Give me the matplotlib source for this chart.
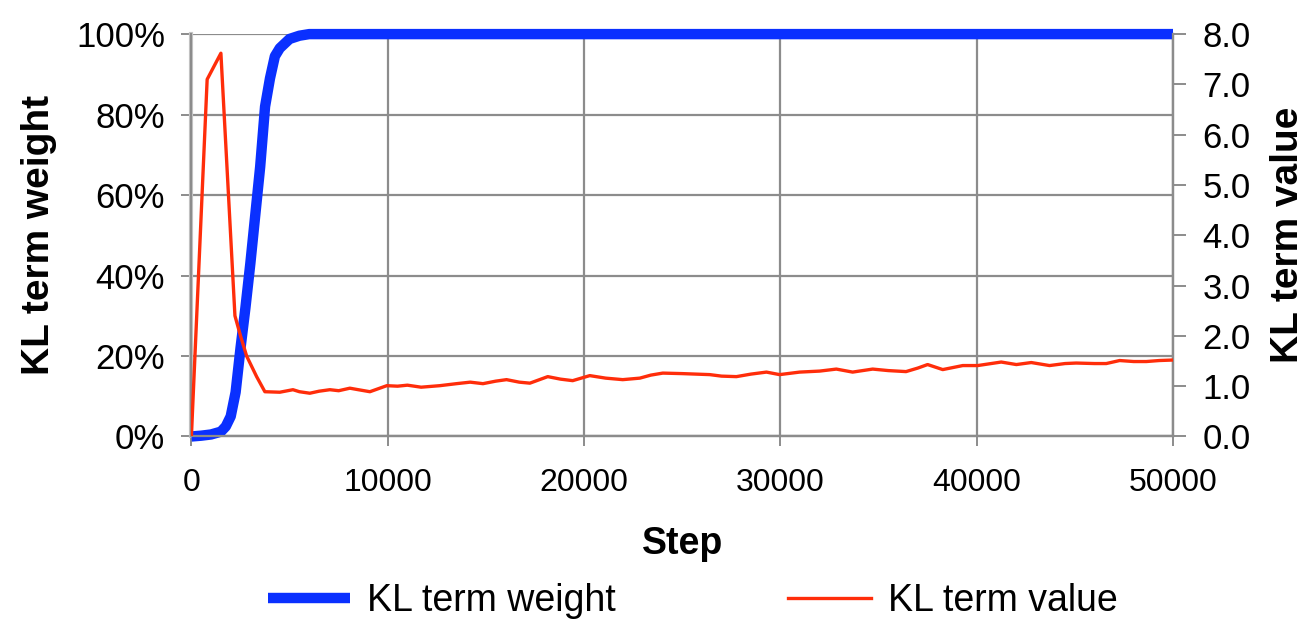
import matplotlib
matplotlib.use('Agg')
import matplotlib.pyplot as plt
from matplotlib.ticker import FuncFormatter

plt.rcParams['font.family'] = ['Liberation Sans', 'DejaVu Sans']

# KL term weight (annealing schedule), percent
weight_steps = [0, 500, 1000, 1500, 1750, 2000, 2250, 2500, 2750, 3000, 3250,
                3500, 3750, 4000, 4250, 4500, 5000, 5500, 6000, 50000]
weight_pct = [0, 0.2, 0.5, 1.2, 2.5, 5, 11, 22, 32, 43, 55,
              67, 82, 89, 94.5, 96.5, 98.8, 99.6, 100, 100]

# KL term value
value_steps = [0, 800, 1500, 2215, 2500, 2810, 3320, 3740, 4500, 5170, 5500,
               6030, 6500, 7050, 7500, 8070, 8500, 9090, 9950, 10500, 11000,
               11700, 12650, 13500, 14200, 14850, 15500, 16050, 16700, 17240,
               18150, 18800, 19420, 20290, 21100, 21970, 22840, 23400, 24010,
               25000, 26400, 27000, 27760, 28500, 29290, 29960, 30980, 32000,
               32850, 33680, 34700, 35500, 36400, 37000, 37500, 38270, 39290,
               40050, 41250, 42020, 42780, 43710, 44500, 45070, 46000, 46600,
               47280, 48000, 48640, 49300, 50000]
kl_value = [0.03, 7.1, 7.62, 2.4, 2.0, 1.6, 1.19, 0.89, 0.88, 0.93, 0.89,
            0.86, 0.9, 0.93, 0.91, 0.96, 0.93, 0.89, 1.01, 1.0, 1.02,
            0.98, 1.01, 1.05, 1.08, 1.05, 1.1, 1.13, 1.08, 1.06,
            1.19, 1.14, 1.11, 1.21, 1.16, 1.13, 1.16, 1.22, 1.26,
            1.25, 1.23, 1.2, 1.19, 1.24, 1.28, 1.23, 1.28, 1.3,
            1.34, 1.28, 1.34, 1.31, 1.29, 1.36, 1.43, 1.33, 1.41,
            1.41, 1.48, 1.43, 1.47, 1.41, 1.45, 1.46, 1.45, 1.45,
            1.51, 1.49, 1.49, 1.51, 1.52]

x_ticks = [0, 10000, 20000, 30000, 40000, 50000]
grid_col = '#8c8c8c'

fig = plt.figure(figsize=(13.14, 6.2), dpi=100)
ax = fig.add_axes([0.1457, 0.296, 0.7470, 0.649])
ax2 = ax.twinx()

ax.plot(weight_steps, weight_pct, color='#0a30ff', lw=7.5,
        solid_capstyle='butt', solid_joinstyle='round', clip_on=False,
        zorder=3, label='KL term weight')
ax2.plot(value_steps, kl_value, color='#ff2d0a', lw=2.4, zorder=3,
         label='KL term value')

ax.set_xlim(0, 50000)
ax.set_ylim(0, 100)
ax2.set_ylim(0, 8)
ax.set_xticks(x_ticks)
ax.set_yticks([0, 20, 40, 60, 80, 100])
ax2.set_yticks(range(0, 9))
ax.yaxis.set_major_formatter(FuncFormatter(lambda v, p: '%d%%' % v))
ax2.yaxis.set_major_formatter(FuncFormatter(lambda v, p: '%.1f' % v))

ax.grid(True, color=grid_col, lw=1.6)
ax.set_axisbelow(True)

for a in (ax, ax2):
    for s in a.spines.values():
        s.set_color(grid_col)
        s.set_linewidth(1.6)
    a.spines['top'].set_visible(False)
ax.spines['left'].set_color('#c8c8c8')
ax.spines['left'].set_linewidth(3)

ax.tick_params(axis='x', length=7, width=1.4, color=grid_col, labelsize=23, pad=16)
ax.tick_params(axis='y', length=7, width=1.4, color=grid_col, labelsize=25, pad=12)
ax2.tick_params(axis='y', length=9, width=1.4, color=grid_col, labelsize=25, pad=12)

ax.set_xlabel('Step', fontsize=27, fontweight='bold', labelpad=20)
ax.set_ylabel('KL term weight', fontsize=28, fontweight='bold', labelpad=14)
ax2.set_ylabel('KL term value', fontsize=28, fontweight='bold', labelpad=14)

h1, l1 = ax.get_legend_handles_labels()
h2, l2 = ax2.get_legend_handles_labels()
fig.legend(h1 + h2, l1 + l2, loc='center', bbox_to_anchor=(0.527, 0.03),
           ncol=2, frameon=False, fontsize=27, handlelength=2.2,
           handletextpad=0.45, columnspacing=4.6)

fig.savefig('out.png', dpi=100, facecolor='white')
